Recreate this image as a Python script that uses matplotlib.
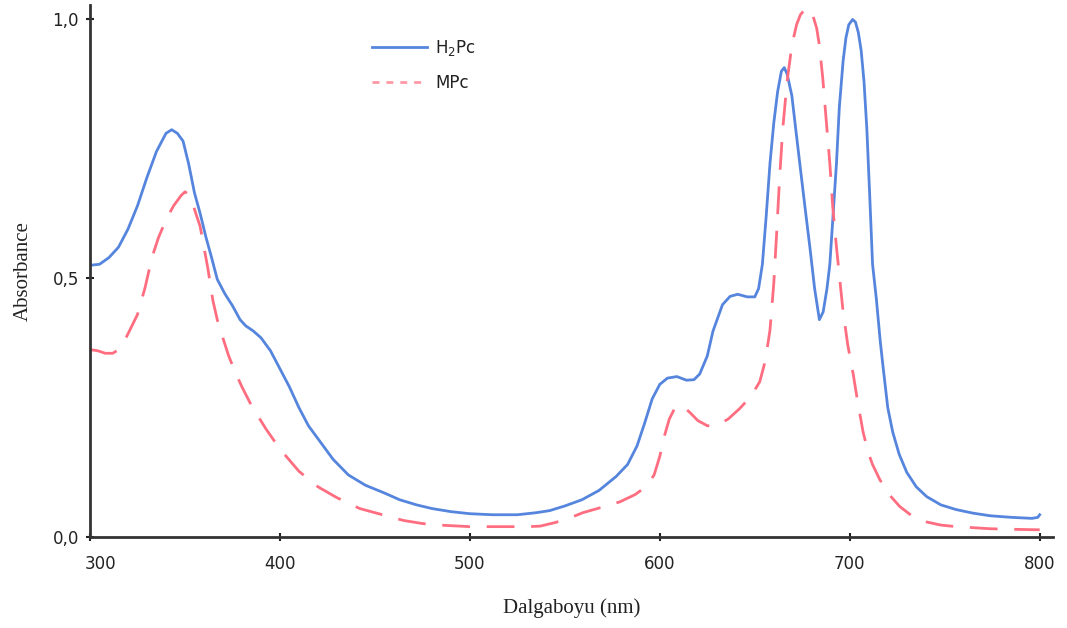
import matplotlib
matplotlib.use("Agg")
import matplotlib.pyplot as plt
from matplotlib.lines import Line2D
from matplotlib.ticker import FuncFormatter
import matplotlib.transforms as mtransforms

# ---- data ----
h2pc_wl = [300, 305, 310, 315, 320, 325, 330, 335, 340, 343, 346, 349, 352, 355, 358, 361,
           364, 367, 371, 375, 379, 382, 386, 390, 395, 400, 405, 410, 415, 420, 428, 436,
           445, 455, 463, 472, 480, 490, 500, 512, 525, 535, 542, 550, 559, 568, 577, 583,
           588, 592, 596, 600, 604, 609, 614, 618, 621, 625, 628, 633, 637, 641, 646, 650,
           652, 654, 656, 658, 660, 662, 664, 665.5, 667, 669.5, 671.5, 674, 677, 679, 681.5,
           684, 686, 688, 689.5, 691, 693, 694.5, 696.5, 698, 699.5, 701.5, 703, 704.5, 706,
           707.5, 709, 710.5, 712, 714, 716, 717.5, 720, 722.6, 726, 730, 735, 740.5, 748,
           756, 765, 774, 785, 796, 799, 800]
h2pc_abs = [0.525, 0.527, 0.54, 0.56, 0.595, 0.64, 0.695, 0.745, 0.78, 0.787, 0.78, 0.765,
            0.72, 0.665, 0.625, 0.58, 0.54, 0.498, 0.47, 0.447, 0.42, 0.408, 0.398, 0.385,
            0.36, 0.325, 0.29, 0.25, 0.215, 0.19, 0.15, 0.12, 0.1, 0.085, 0.072, 0.062, 0.055,
            0.049, 0.045, 0.043, 0.043, 0.047, 0.051, 0.06, 0.072, 0.09, 0.117, 0.14, 0.176,
            0.22, 0.267, 0.295, 0.307, 0.31, 0.303, 0.304, 0.315, 0.35, 0.398, 0.449, 0.465,
            0.469, 0.464, 0.464, 0.48, 0.527, 0.62, 0.722, 0.80, 0.86, 0.90, 0.907, 0.895,
            0.853, 0.79, 0.712, 0.62, 0.56, 0.48, 0.42, 0.435, 0.48, 0.527, 0.61, 0.722, 0.83,
            0.92, 0.965, 0.99, 1.0, 0.995, 0.975, 0.94, 0.88, 0.788, 0.66, 0.527, 0.46, 0.38,
            0.33, 0.25, 0.203, 0.16, 0.125, 0.097, 0.078, 0.062, 0.053, 0.046, 0.041, 0.038,
            0.036, 0.038, 0.043]

mpc_wl = [300, 304, 308, 312, 315, 318, 321, 325, 329, 332.6, 336, 340, 344, 348, 350, 352,
          354, 356, 358, 360, 362, 364.7, 367, 369.5, 373, 376.3, 380, 385, 392.6, 400, 410,
          420, 430, 442, 454, 465, 475, 484, 500, 516, 530, 537, 545, 552, 559.5, 570, 579,
          587, 593, 597, 600, 602, 605, 608, 610.5, 613, 616, 620, 625, 630, 636, 642, 648,
          652.6, 655.5, 658, 660, 661.6, 663, 664.7, 667, 669.5, 672, 674, 676, 678, 680,
          682.6, 684, 685.8, 687.5, 689.5, 691, 693, 696.5, 699, 701.8, 704, 707, 710, 712,
          715.8, 720, 726.3, 733, 740.5, 748, 756, 765, 773.7, 785, 798, 800]
mpc_abs = [0.362, 0.36, 0.355, 0.355, 0.362, 0.378, 0.40, 0.43, 0.482, 0.54, 0.578, 0.613,
           0.64, 0.66, 0.667, 0.662, 0.645, 0.622, 0.6, 0.56, 0.52, 0.457, 0.42, 0.39, 0.35,
           0.32, 0.29, 0.254, 0.209, 0.17, 0.127, 0.097, 0.076, 0.055, 0.043, 0.032, 0.026,
           0.023, 0.02, 0.02, 0.02, 0.021, 0.028, 0.036, 0.047, 0.058, 0.068, 0.082, 0.098,
           0.12, 0.156, 0.19, 0.228, 0.25, 0.255, 0.25, 0.24, 0.225, 0.215, 0.215, 0.228,
           0.248, 0.272, 0.3, 0.34, 0.4, 0.49, 0.593, 0.69, 0.788, 0.88, 0.95, 0.99, 1.009,
           1.018, 1.022, 1.015, 0.983, 0.95, 0.886, 0.81, 0.722, 0.64, 0.56, 0.435, 0.37,
           0.315, 0.265, 0.203, 0.16, 0.14, 0.111, 0.085, 0.059, 0.04, 0.029, 0.023, 0.02,
           0.018, 0.016, 0.015, 0.014, 0.014]

series_labels = ["H$_2$Pc", "MPc"]
x_ticks = [300, 400, 500, 600, 700, 800]
y_ticks = [0.0, 0.5, 1.0]
x_label = "Dalgaboyu (nm)"
y_label = "Absorbance"

blue = "#5585dd"
red = "#ff6e80"

fig = plt.figure(figsize=(10.67, 6.28), dpi=100)
ax = fig.add_axes([90 / 1067, (628 - 537) / 628, (1053 - 90) / 1067, (537 - 5) / 628])

ax.plot(h2pc_wl, h2pc_abs, color=blue, lw=2.0, solid_joinstyle="round")
ax.plot(mpc_wl, mpc_abs, color=red, lw=2.0, linestyle=(0, (10, 6)))

ax.set_xlim(300, 807)
ax.set_ylim(0, 1.028)

for s in ["top", "right"]:
    ax.spines[s].set_visible(False)
for s in ["left", "bottom"]:
    ax.spines[s].set_linewidth(2.0)
    ax.spines[s].set_color("#333333")

ax.set_xticks(x_ticks)
ax.set_yticks(y_ticks)
ax.yaxis.set_major_formatter(FuncFormatter(lambda v, p: f"{v:.1f}".replace(".", ",")))
ax.tick_params(axis="both", direction="inout", length=6, width=1.5, color="#222222",
               labelsize=12, labelcolor="#222222")
ax.tick_params(axis="x", pad=10)
ax.tick_params(axis="y", pad=5)

# shift first x tick label slightly right, like the reference
lbl = ax.get_xticklabels()[0]
lbl.set_transform(lbl.get_transform() + mtransforms.ScaledTranslation(10 / 100, 0, fig.dpi_scale_trans))

ax.set_xlabel(x_label, fontfamily="Liberation Serif", fontsize=15, color="#222222", labelpad=18)
ax.set_ylabel(y_label, fontfamily="Liberation Serif", fontsize=15, color="#222222", labelpad=14)

handles = [Line2D([], [], color=blue, lw=2.0),
           Line2D([], [], color=red, lw=2.0, linestyle=(0, (2.5, 2.5)), alpha=0.7)]
ax.legend(handles, series_labels, loc="upper left", bbox_to_anchor=(0.277, 0.966),
          frameon=False, fontsize=12, handlelength=3.3, handletextpad=0.5, labelspacing=0.95,
          labelcolor="#222222")

fig.savefig("out.png", dpi=100)
